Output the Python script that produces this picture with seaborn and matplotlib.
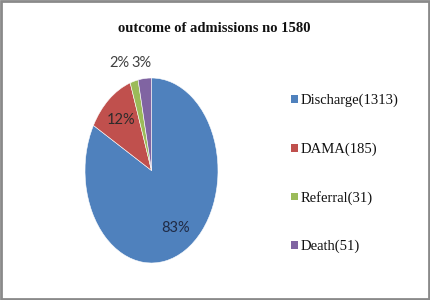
import matplotlib
matplotlib.use("Agg")
import matplotlib.pyplot as plt
import seaborn as sns
import numpy as np
from matplotlib.patches import Rectangle, Patch

categories = ["Discharge", "DAMA", "Referral", "Death"]
counts = [1313, 185, 31, 51]
pct_labels = ["83%", "12%", "2%", "3%"]
title_text = "outcome of admissions no 1580"

sns.set_theme(style="white")
colors = sns.color_palette(["#4F81BD", "#C0504D", "#9BBB59", "#8064A2"])

fig = plt.figure(figsize=(4.3, 3.0), dpi=100)
fig.patch.set_facecolor("white")

W, H = 430, 300
# pie ellipse bounds in pixels: left 85, right 218, top 78, bottom 263
ax = fig.add_axes([85 / W, (H - 263) / H, 133 / W, 185 / H])
wedges, _ = ax.pie(counts, colors=colors, startangle=90, counterclock=False,
                   radius=1.0, wedgeprops=dict(linewidth=0.4, edgecolor="white"))
ax.set_aspect("auto")
ax.set_xlim(-1, 1)
ax.set_ylim(-1, 1)
ax.axis("off")

# percentage labels placed along each wedge's mid-angle
label_dist = [0.72, 0.71, 1.85, 1.45]
label_y_override = [None, None, 1.16, 1.16]
label_colors = ["#1F2A44", "#2b2b2b", "#404040", "#404040"]
for w, txt, d, yo, c in zip(wedges, pct_labels, label_dist, label_y_override, label_colors):
    th = np.deg2rad((w.theta1 + w.theta2) / 2)
    x = np.cos(th) * d
    y = np.sin(th) * d if yo is None else yo
    ax.text(x, y, txt, ha="center", va="center", fontsize=10.5,
            family="Lato", color=c, clip_on=False)

fig.text(214 / W, 1 - 28 / H, title_text, ha="center", va="center",
         fontsize=10.5, fontweight="bold", family="Liberation Serif", color="#111111")

handles = [Patch(facecolor=col, edgecolor="none") for col in colors]
leg_labels = [f"{c}({n})" for c, n in zip(categories, counts)]
leg = fig.legend(handles, leg_labels, loc="upper left",
                 bbox_to_anchor=(291 / W, 1 - 94 / H), frameon=False,
                 prop=dict(family="Liberation Serif", size=10.5),
                 handlelength=0.45, handleheight=0.45, handletextpad=0.2,
                 labelspacing=2.4, borderpad=0, borderaxespad=0)
for t in leg.get_texts():
    t.set_color("#111111")

fig.patches.append(Rectangle((0.002, 0.003), 0.995, 0.993, transform=fig.transFigure,
                             fill=False, edgecolor="#8a8a8a", linewidth=2.0))

fig.savefig("out.png", dpi=100, facecolor="white")
